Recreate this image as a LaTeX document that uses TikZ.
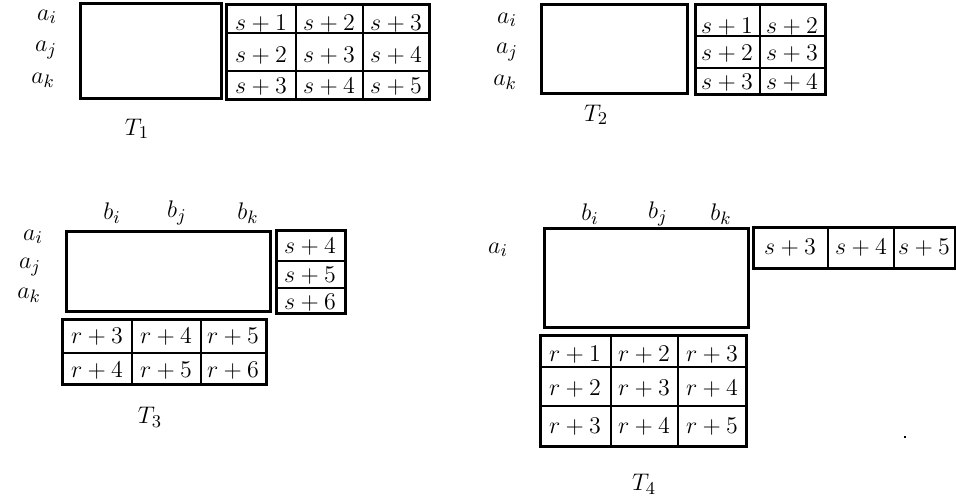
\documentclass[tikz,border=0pt]{standalone}
\tikzset{
  frame/.style={line width=1.5pt},
  rule/.style={line width=1.2pt},
  entry/.style={font=\fontsize{12.5}{15}\selectfont,inner sep=0pt},
  lab/.style={font=\fontsize{13}{16}\selectfont,inner sep=0pt}
}
\begin{document}
\begin{tikzpicture}[x=0.5pt,y=-0.5pt]
\useasboundingbox (0,0) rectangle (956,502);

% T1
\node[lab] (ai1) at (47,17) {$a_i$};
\node[lab] (aj1) at (46,50) {$a_j$};
\node[lab] (ak1) at (43,80) {$a_k$};
\draw[frame] (80,4) rectangle (221,99);
\draw[frame] (226,5) rectangle (429,100);
\draw[rule] (296,5) -- (296,100) (363,5) -- (363,100)
            (226,33) -- (429,33) (226,71) -- (429,71);
\foreach[count=\n] \x/\y/\t in {261/24/1,329/24/2,396/24/3,
                              261/56/2,329/56/3,396/56/4,
                              261/87/3,329/87/4,396/87/5}
  \node[entry] (pa\n) at (\x,\y) {$s+\t$};
\node[lab] (n1) at (137,129) {$T_1$};

% T2
\node[lab] (ai2) at (507,20) {$a_i$};
\node[lab] (aj2) at (507,52) {$a_j$};
\node[lab] (ak2) at (505,82) {$a_k$};
\draw[frame] (541,5) rectangle (687,94);
\draw[frame] (695,5) rectangle (825,95);
\draw[rule] (760,5) -- (760,95) (695,36) -- (825,36) (695,68) -- (825,68);
\foreach[count=\n] \x/\y/\t in {727/27/1,792/27/2,
                              727/54/2,792/54/3,
                              727/83/3,792/83/4}
  \node[entry] (pb\n) at (\x,\y) {$s+\t$};
\node[lab] (n2) at (596,115) {$T_2$};

% T3
\node[lab] (bi3) at (112,213) {$b_i$};
\node[lab] (bj3) at (177,213) {$b_j$};
\node[lab] (bk3) at (248,213) {$b_k$};
\node[lab] (ai3) at (33,237) {$a_i$};
\node[lab] (aj3) at (30,267) {$a_j$};
\node[lab] (ak3) at (29,295) {$a_k$};
\draw[frame] (66,231) rectangle (270,311);
\draw[frame] (276,230) rectangle (345,313);
\draw[rule] (276,261) -- (345,261) (276,288) -- (345,288);
\foreach[count=\n] \y/\t in {247/4,276/5,303/6}
  \node[entry] (pc\n) at (310,\y) {$s+\t$};
\draw[frame] (62,319) rectangle (266,384);
\draw[rule] (132,319) -- (132,384) (201,319) -- (201,384) (62,353) -- (268,353);
\foreach[count=\n] \x/\y/\t in {97/337/3,166/337/4,233/337/5,
                              97/371/4,166/371/5,233/371/6}
  \node[entry] (qc\n) at (\x,\y) {$r+\t$};
\node[lab] (n3) at (150,417) {$T_3$};

% T4
\node[lab] (bi4) at (590,214) {$b_i$};
\node[lab] (bj4) at (658,214) {$b_j$};
\node[lab] (bk4) at (721,214) {$b_k$};
\node[lab] (ai4) at (498,250) {$a_i$};
\draw[frame] (544,228) rectangle (748,327);
\draw[frame] (753,227) rectangle (955,268);
\draw[rule] (828,227) -- (828,268) (894,227) -- (894,268);
\foreach[count=\n] \x/\t in {790/3,861/4,924/5}
  \node[entry] (pd\n) at (\x,248) {$s+\t$};
\draw[frame] (540,335) rectangle (746,446);
\draw[rule] (611,335) -- (611,446) (678,335) -- (678,446)
            (540,367) -- (746,367) (540,406) -- (746,406);
\foreach[count=\n] \x/\y/\t in {575/355/1,644/355/2,712/355/3,
                              575/389/2,644/389/3,712/389/4,
                              575/427/3,644/427/4,712/427/5}
  \node[entry] (qd\n) at (\x,\y) {$r+\t$};
\node[lab] (n4) at (644,484) {$T_4$};
\fill (904,436) rectangle (906,438);
\end{tikzpicture}
\end{document}
